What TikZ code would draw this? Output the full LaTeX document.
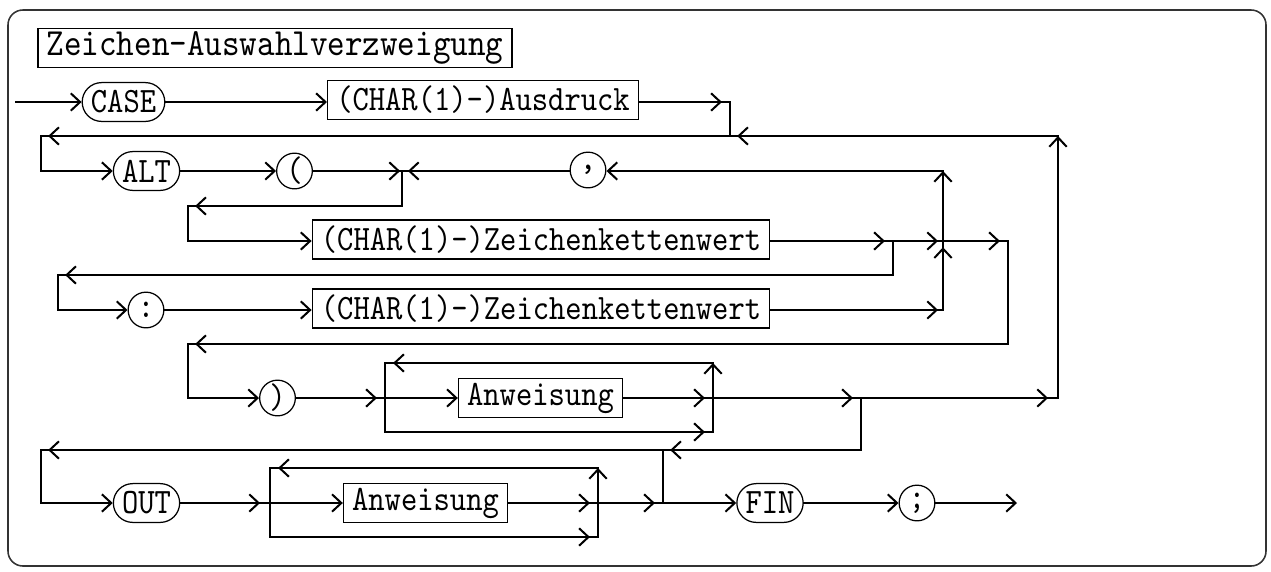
\documentclass[tikz,border=0pt]{standalone}
\usepackage{fontspec}
\usepackage{tikz}
\usetikzlibrary{arrows.meta,decorations.markings}
\newcommand{\lbl}[1]{\scalebox{1}[1.15]{#1}}

\begin{document}
\begin{tikzpicture}[
  x=0.322pt, y=-0.322pt,
  conn/.style={line width=0.65pt, line cap=rect},
  nonterm/.style={draw, line width=0.4pt, font=\ttfamily, inner xsep=2.8pt, inner ysep=1pt, minimum height=12.5pt},
  terminal/.style={nonterm, rounded corners=6.25pt},
  symbol/.style={draw, circle, line width=0.4pt, font=\ttfamily, inner sep=0pt, minimum size=11.5pt},
  arrow/.style={conn, -{Straight Barb[length=3pt,width=5.6pt]}},
  arrowat/.style={conn, postaction={decorate, decoration={markings, mark=at position #1 with {\arrow{Straight Barb[length=3pt,width=5.6pt]}}}}}
]
\useasboundingbox (0,0) rectangle (1271,571);
\draw[line width=0.5pt, draw=black!80, rounded corners=4.8pt] (8,10) rectangle (1266,566);
\node[nonterm, font=\ttfamily\fontsize{10.77}{13}\selectfont] (title) at (275,48) {\lbl{Zeichen-Auswahlverzweigung}};
\node[terminal] (case) at (123.5,102) {\lbl{CASE}};
\node[nonterm] (ausdruck) at (483,100) {\lbl{(CHAR(1)-)Ausdruck}};
\node[terminal] (alt) at (146.5,171) {\lbl{ALT}};
\node[symbol] (lpar) at (294.5,171) {\lbl{(}};
\node[symbol] (comma) at (588,170) {\lbl{,}};
\node[nonterm] (wert) at (541,239.5) {\lbl{(CHAR(1)-)Zeichenkettenwert}};
\node[symbol] (colon) at (146,310) {\lbl{:}};
\node[nonterm] (bis) at (541,308.5) {\lbl{(CHAR(1)-)Zeichenkettenwert}};
\node[symbol] (rpar) at (277.5,398) {\lbl{)}};
\node[nonterm] (anw) at (540.5,398) {\lbl{Anweisung}};
\node[terminal] (out) at (146.5,503) {\lbl{OUT}};
\node[nonterm] (anwout) at (425.5,503) {\lbl{Anweisung}};
\node[terminal] (fin) at (770,503) {\lbl{FIN}};
\node[symbol] (semi) at (917,503) {\lbl{;}};
\coordinate (start) at (16,102);
\coordinate (j1) at (730,102);
\coordinate (j1b) at (730,136);
\coordinate (back) at (1058,136);
\coordinate (l2) at (41,136);
\coordinate (l3) at (41,171);
\coordinate (j3) at (402,171);
\coordinate (j3b) at (402,206);
\coordinate (l4) at (188,206);
\coordinate (l5) at (188,241);
\coordinate (k3) at (943,171);
\coordinate (k5) at (943,241);
\coordinate (k7) at (943,310);
\coordinate (j5) at (893,241);
\coordinate (j5b) at (893,275);
\coordinate (l6) at (58,275);
\coordinate (l7) at (58,310);
\coordinate (m5) at (1008,241);
\coordinate (m8) at (1008,344);
\coordinate (l8) at (188,344);
\coordinate (l9) at (188,398);
\coordinate (al) at (385,398);
\coordinate (ar) at (713,398);
\coordinate (a1) at (385,363);
\coordinate (a2) at (713,363);
\coordinate (a3) at (385,432);
\coordinate (a4) at (713,432);
\coordinate (j9) at (861,398);
\coordinate (back9) at (1058,398);
\coordinate (j10) at (861,450);
\coordinate (n10) at (663,450);
\coordinate (n11) at (663,503);
\coordinate (l10) at (41,450);
\coordinate (l11) at (41,503);
\coordinate (bl) at (270,503);
\coordinate (br) at (598,503);
\coordinate (b1) at (270,468);
\coordinate (b2) at (598,468);
\coordinate (b3) at (270,537);
\coordinate (b4) at (598,537);
\coordinate (exit) at (1017,503);
\draw[arrow] (start) -- (case);
\draw[arrow] (case) -- (case -| ausdruck.west);
\draw[arrowat=-2.6pt] (j1 -| ausdruck.east) -- (j1);
\draw[arrowat=-2.3pt] (back) -- (j1b);
\draw[arrowat=-2.3pt] (j1) -- (j1b) -- (l2);
\draw[arrow] (l2) -- (l3) -- (alt);
\draw[arrow] (alt) -- (lpar);
\draw[arrowat=-0.6pt] (lpar) -- (j3);
\draw[arrow] (k3) -- (k3 -| comma.east);
\draw[arrowat=-1.9pt] (j3 -| comma.west) -- (j3);
\draw[arrowat=-2.3pt] (j3) -- (j3b) -- (l4);
\draw[arrow] (l4) -- (l5) -- (l5 -| wert.west);
\draw[arrowat=-2.6pt] (j5 -| wert.east) -- (j5);
\draw[arrowat=-1.6pt] (j5) -- (k5);
\draw[arrowat=-2.6pt] (k5) -- (m5);
\draw[arrowat=-2.3pt] (j5) -- (j5b) -- (l6);
\draw[arrow] (l6) -- (l7) -- (colon);
\draw[arrow] (colon) -- (colon -| bis.west);
\draw[arrowat=-1.6pt] (k7 -| bis.east) -- (k7);
\draw[arrowat=-2pt] (k7) -- (k5);
\draw[arrow] (k5) -- (k3);
\draw[arrowat=-2.3pt] (m5) -- (m8) -- (l8);
\draw[arrow] (l8) -- (l9) -- (rpar);
\draw[arrowat=-2.6pt] (rpar) -- (al);
\draw[arrow] (al) -- (anw);
\draw[arrowat=-2.6pt] (anw) -- (ar);
\draw[arrowat=-2.6pt] (al) -- (a3) -- (a4);
\draw[arrow] (a4) -- (a2);
\draw[arrowat=-2.6pt] (a2) -- (a1);
\draw[conn] (a1) -- (al);
\draw[arrowat=-2.6pt] (ar) -- (j9);
\draw[arrowat=-3.2pt] (j9) -- (back9);
\draw[arrow] (back9) -- (back);
\draw[arrowat=-2.3pt] (j9) -- (j10) -- (n10);
\draw[arrowat=-2.3pt] (n10) -- (l10);
\draw[arrow] (l10) -- (l11) -- (out);
\draw[arrowat=-3.2pt] (out) -- (bl);
\draw[arrow] (bl) -- (anwout);
\draw[arrowat=-2.6pt] (anwout) -- (br);
\draw[arrowat=-2.6pt] (bl) -- (b3) -- (b4);
\draw[arrow] (b4) -- (b2);
\draw[arrowat=-2.6pt] (b2) -- (b1);
\draw[conn] (b1) -- (bl);
\draw[arrowat=-2.6pt] (br) -- (n11);
\draw[conn] (n10) -- (n11);
\draw[arrow] (n11) -- (fin);
\draw[arrow] (fin) -- (semi);
\draw[arrow] (semi) -- (exit);
\end{tikzpicture}
\end{document}
